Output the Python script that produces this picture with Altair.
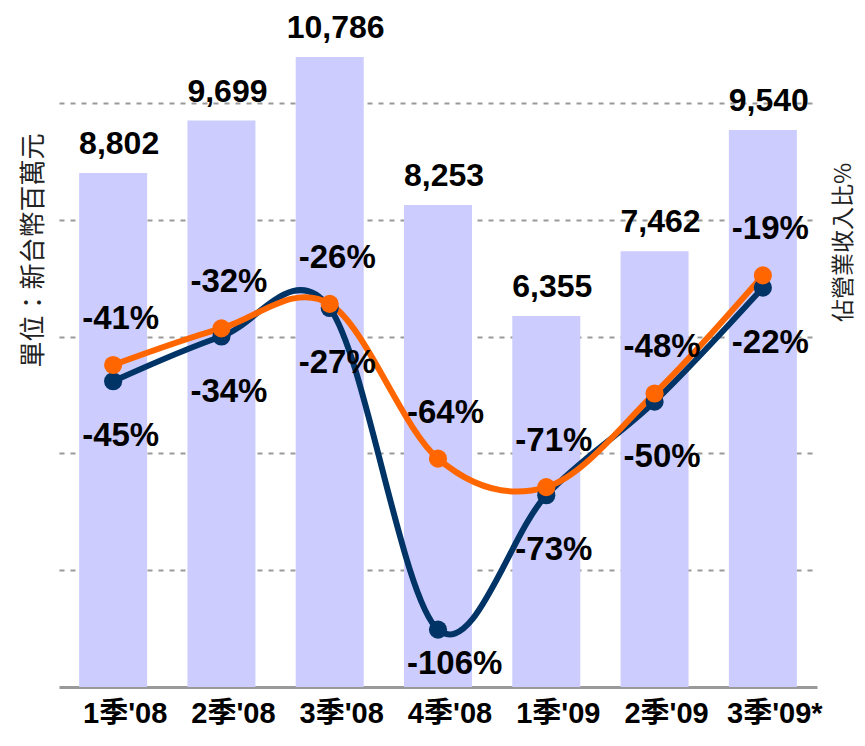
import altair as alt
import pandas as pd

quarters = ["1季'08", "2季'08", "3季'08", "4季'08", "1季'09", "2季'09", "3季'09*"]
revenue = [8802, 9699, 10786, 8253, 6355, 7462, 9540]
ratio_navy = [-45, -34, -27, -106, -73, -50, -22]
ratio_orange = [-41, -32, -26, -64, -71, -48, -19]

bar_df = pd.DataFrame({"季度": quarters, "營收": revenue,
                       "標籤": [f"{v:,}" for v in revenue]})
navy_df = pd.DataFrame({"季度": quarters, "比率": ratio_navy,
                        "標籤": [f"{v}%" for v in ratio_navy]})
orange_df = pd.DataFrame({"季度": quarters, "比率": ratio_orange,
                          "標籤": [f"{v}%" for v in ratio_orange]})

LATIN = "Liberation Sans, Arial, Noto Sans CJK TC"
CJK = "Noto Sans CJK TC"

x_enc = alt.X("季度:N", sort=quarters,
              scale=alt.Scale(paddingInner=0.372, paddingOuter=0.186),
              axis=alt.Axis(title=None, labelAngle=0, ticks=False, tickSize=0,
                            domain=True, domainColor="#999999", domainWidth=3,
                            labelFont=LATIN, labelFontSize=29, labelFontWeight="bold",
                            labelColor="#000000", labelPadding=41, labelBaseline="bottom",
                            labelOffset=12, grid=False))

y_bar = alt.Y("營收:Q", scale=alt.Scale(domain=[0, 11627], nice=False, zero=True),
              axis=alt.Axis(title="單位：新台幣百萬元", values=[2000, 4000, 6000, 8000, 10000],
                            labels=False, ticks=False, domain=False, grid=True,
                            gridColor="#999999", gridDash=[5, 6], gridWidth=2,
                            titleFont=CJK, titleFontSize=26, titleFontWeight="normal",
                            titleColor="#222222", titleAngle=-90, titleX=-26, titleY=242,
                            titleAlign="center", titleBaseline="middle"))

bars = alt.Chart(bar_df).mark_bar(color="#CCCCFF").encode(x=x_enc, y=y_bar)
bar_text = alt.Chart(bar_df).mark_text(font=LATIN, fontSize=32, fontWeight="bold",
                                       color="#000000", align="center", baseline="alphabetic",
                                       dx=6, dy=-19).encode(x=x_enc, y=y_bar, text="標籤:N")
bar_layer = alt.layer(bars, bar_text)

y_pct = alt.Y("比率:Q", scale=alt.Scale(domain=[-120.1, 46.7], nice=False, zero=False),
              axis=alt.Axis(title="佔營業收入比%", orient="right", labels=False, ticks=False,
                            domain=False, grid=False,
                            titleFont=CJK, titleFontSize=23, titleFontWeight="normal",
                            titleColor="#222222", titleAngle=-90, titleX=26, titleY=234,
                            titleAlign="center", titleBaseline="middle"))

NAVY = "#003366"
ORANGE = "#FF6600"

navy_line = alt.Chart(navy_df).mark_line(color=NAVY, strokeWidth=6,
                                         interpolate="cardinal").encode(x=x_enc, y=y_pct)
orange_line = alt.Chart(orange_df).mark_line(color=ORANGE, strokeWidth=6,
                                             interpolate="cardinal").encode(x=x_enc, y=y_pct)
navy_pts = alt.Chart(navy_df).mark_circle(color=NAVY, size=330, opacity=1).encode(x=x_enc, y=y_pct)
orange_pts = alt.Chart(orange_df).mark_circle(color=ORANGE, size=330, opacity=1).encode(x=x_enc, y=y_pct)

pct_style = dict(font=LATIN, fontSize=33, fontWeight="bold", color="#000000",
                 align="left", baseline="alphabetic", dx=-31)
orange_text = alt.Chart(orange_df).mark_text(dy=-36, **pct_style).encode(
    x=x_enc, y=y_pct, text="標籤:N")
navy_text = alt.Chart(navy_df).transform_filter(
    alt.datum["季度"] != "4季'08").mark_text(dy=65, **pct_style).encode(
    x=x_enc, y=y_pct, text="標籤:N")
navy_text_low = alt.Chart(navy_df).transform_filter(
    alt.datum["季度"] == "4季'08").mark_text(dy=44, **pct_style).encode(
    x=x_enc, y=y_pct, text="標籤:N")

line_layer = alt.layer(navy_line, orange_line, navy_pts, orange_pts,
                       orange_text, navy_text, navy_text_low)

chart = alt.layer(bar_layer, line_layer).resolve_scale(y="independent").properties(
    width=758, height=679,
    autosize=alt.AutoSizeParams(type="none"),
    padding={"left": 51, "top": 0, "right": 40, "bottom": 43},
    background="#FFFFFF",
).configure_view(stroke=None)

chart.save("out.html", embed_options={"renderer": "svg", "actions": False})
